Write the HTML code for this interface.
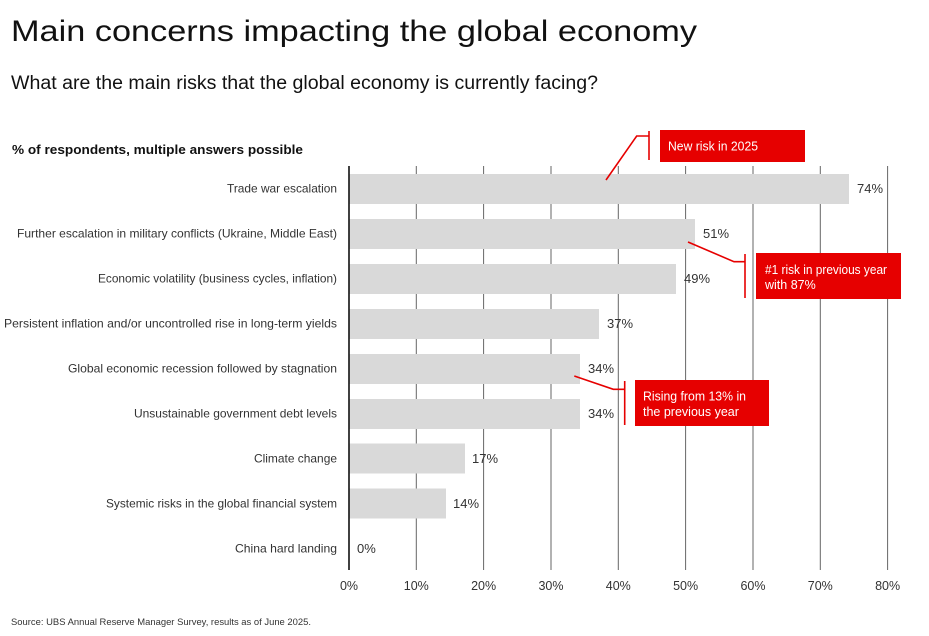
<!DOCTYPE html>
<html><head><meta charset="utf-8"><style>
html,body{margin:0;padding:0;background:#fff;}
svg{display:block;font-family:"Liberation Sans",Arial,sans-serif;}
</style></head><body>
<svg width="929" height="636" viewBox="0 0 929 636" xmlns="http://www.w3.org/2000/svg">
<rect width="929" height="636" fill="#fff"/>
<text x="11" y="41" font-size="30" fill="#111" textLength="686" lengthAdjust="spacingAndGlyphs">Main concerns impacting the global economy</text>
<text x="11" y="89" font-size="19" fill="#111" textLength="587" lengthAdjust="spacingAndGlyphs">What are the main risks that the global economy is currently facing?</text>
<text x="12" y="154" font-size="13" font-weight="bold" fill="#111" textLength="291" lengthAdjust="spacingAndGlyphs">% of respondents, multiple answers possible</text>

<g stroke="#666" stroke-width="1">
<line x1="416.3" y1="166" x2="416.3" y2="570"/>
<line x1="483.6" y1="166" x2="483.6" y2="570"/>
<line x1="551" y1="166" x2="551" y2="570"/>
<line x1="618.3" y1="166" x2="618.3" y2="570"/>
<line x1="685.6" y1="166" x2="685.6" y2="570"/>
<line x1="753" y1="166" x2="753" y2="570"/>
<line x1="820.3" y1="166" x2="820.3" y2="570"/>
<line x1="887.6" y1="166" x2="887.6" y2="570"/>
</g>

<g fill="#d9d9d9">
<rect x="349" y="174" width="500" height="30"/>
<rect x="349" y="219" width="346" height="30"/>
<rect x="349" y="264" width="327" height="30"/>
<rect x="349" y="309" width="250" height="30"/>
<rect x="349" y="354" width="231" height="30"/>
<rect x="349" y="399" width="231" height="30"/>
<rect x="349" y="443.5" width="116" height="30"/>
<rect x="349" y="488.5" width="97" height="30"/>
</g>
<line x1="349" y1="166" x2="349" y2="570" stroke="#111" stroke-width="1.6"/>

<g font-size="12" fill="#333" text-anchor="end">
<text x="337" y="192.5" textLength="110" lengthAdjust="spacingAndGlyphs">Trade war escalation</text>
<text x="337" y="237.5" textLength="320" lengthAdjust="spacingAndGlyphs">Further escalation in military conflicts (Ukraine, Middle East)</text>
<text x="337" y="282.5" textLength="239" lengthAdjust="spacingAndGlyphs">Economic volatility (business cycles, inflation)</text>
<text x="337" y="327.5" textLength="333" lengthAdjust="spacingAndGlyphs">Persistent inflation and/or uncontrolled rise in long-term yields</text>
<text x="337" y="372.5" textLength="269" lengthAdjust="spacingAndGlyphs">Global economic recession followed by stagnation</text>
<text x="337" y="417.5" textLength="203" lengthAdjust="spacingAndGlyphs">Unsustainable government debt levels</text>
<text x="337" y="462.5" textLength="83" lengthAdjust="spacingAndGlyphs">Climate change</text>
<text x="337" y="507.5" textLength="231" lengthAdjust="spacingAndGlyphs">Systemic risks in the global financial system</text>
<text x="337" y="552.5" textLength="102" lengthAdjust="spacingAndGlyphs">China hard landing</text>
</g>

<g font-size="13" fill="#333">
<text x="857" y="193">74%</text>
<text x="703" y="238">51%</text>
<text x="684" y="283">49%</text>
<text x="607" y="328">37%</text>
<text x="588" y="373">34%</text>
<text x="588" y="418">34%</text>
<text x="472" y="463">17%</text>
<text x="453" y="508">14%</text>
<text x="357" y="553">0%</text>
</g>

<g font-size="12.5" fill="#333" text-anchor="middle">
<text x="349" y="590">0%</text>
<text x="416.3" y="590">10%</text>
<text x="483.6" y="590">20%</text>
<text x="551" y="590">30%</text>
<text x="618.3" y="590">40%</text>
<text x="685.6" y="590">50%</text>
<text x="753" y="590">60%</text>
<text x="820.3" y="590">70%</text>
<text x="887.6" y="590">80%</text>
</g>

<text x="11" y="625" font-size="9.5" fill="#333" textLength="300" lengthAdjust="spacingAndGlyphs">Source: UBS Annual Reserve Manager Survey, results as of June 2025.</text>

<!-- Callout 1 -->
<g stroke="#e60000" stroke-width="1.6" fill="none">
<polyline points="606,180 636.7,136 649,136"/>
<line x1="649" y1="131" x2="649" y2="160"/>
<polyline points="688,242 734,261.7 745,261.7"/>
<line x1="745" y1="254" x2="745" y2="298"/>
<polyline points="574.3,376 613.3,389.3 624.7,389.3"/>
<line x1="624.7" y1="381" x2="624.7" y2="425"/>
</g>
<rect x="660" y="130" width="145" height="32" fill="#e60000"/>
<rect x="756" y="253" width="145" height="46" fill="#e60000"/>
<rect x="635" y="380" width="134" height="46" fill="#e60000"/>
<g font-size="12.5" fill="#fff">
<text x="668" y="150.5" textLength="90" lengthAdjust="spacingAndGlyphs">New risk in 2025</text>
<text x="765" y="274" textLength="122" lengthAdjust="spacingAndGlyphs">#1 risk in previous year</text>
<text x="765" y="289">with 87%</text>
<text x="643" y="400.5" textLength="103" lengthAdjust="spacingAndGlyphs">Rising from 13% in</text>
<text x="643" y="416">the previous year</text>
</g>
</svg>
</body></html>
